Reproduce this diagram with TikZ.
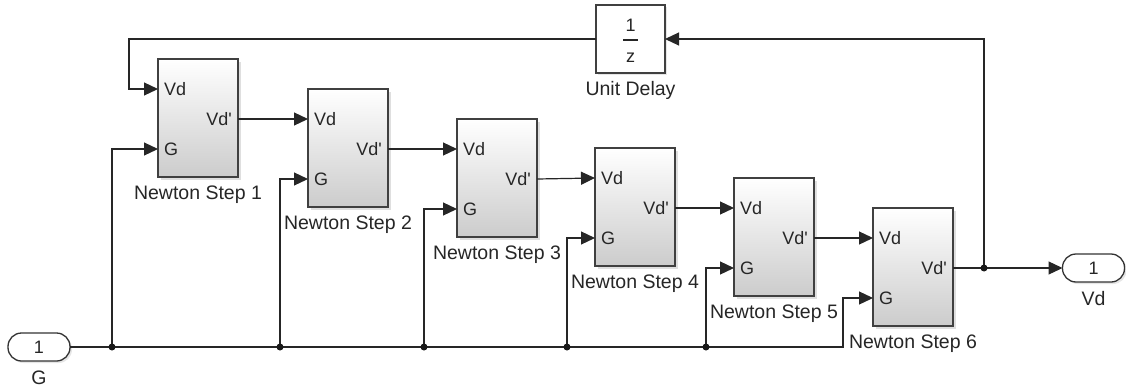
\documentclass[tikz,border=0pt]{standalone}
\usepackage{fontspec}
\setmainfont{Liberation Sans}
\usetikzlibrary{arrows.meta,shadows}
\begin{document}
\begin{tikzpicture}[x=1pt,y=-1pt,
  txt/.style={font=\fontsize{18}{21}\selectfont, text=black!85, inner sep=0pt},
  blabel/.style={font=\fontsize{19.5}{22}\selectfont, text=black!85, inner sep=0pt},
  wire/.style={line width=1.2pt, draw=black!85},
  sig/.style={wire, -{Triangle[length=14pt,width=13pt]}},
  blk/.style={draw=black!75, line width=1.5pt, minimum width=80pt, minimum height=118pt,
    inner sep=0pt, outer sep=0pt, top color=white, bottom color=black!20,
    drop shadow={shadow xshift=2.5pt,shadow yshift=-2.5pt,opacity=0.25}},
  dly/.style={draw=black!75, line width=1.5pt, minimum width=69pt, minimum height=68pt,
    inner sep=0pt, outer sep=0pt, fill=white,
    drop shadow={shadow xshift=2pt,shadow yshift=-2pt,opacity=0.2}},
  port/.style={draw=black!80, line width=1.3pt, minimum width=62pt, minimum height=28pt,
    rounded corners=13.5pt, inner sep=0pt, outer sep=0pt, fill=white, txt,
    drop shadow={shadow xshift=2pt,shadow yshift=-2pt,opacity=0.2}},
  dot/.style={fill=black!90}
]
\path[use as bounding box] (0,0) rectangle (1126,391);

% Newton step blocks
\foreach \i/\x/\t in {1/158/59, 2/308/89, 3/457/119, 4/595/148, 5/734/178, 6/873/208}{
  \node[blk] (b\i) at ({\x+40},{\t+59}) {};
  \coordinate (b\i-vd) at (\x,{\t+30});
  \coordinate (b\i-g) at (\x,{\t+90});
  \coordinate (b\i-o) at ({\x+80},{\t+60});
  \node[txt, anchor=west] (b\i-vdl) at ({\x+6},{\t+30}) {Vd};
  \node[txt, anchor=west] (b\i-gl) at ({\x+6},{\t+90}) {G};
  \node[txt, anchor=east] (b\i-ol) at ({\x+74},{\t+60}) {Vd\textquotesingle};
  \node[blabel] (b\i-name) at ({\x+40},{\t+136}) {Newton Step \i};
}

% Unit delay
\node[dly] (ud) at (630.5,39) {};
\node[txt] (ud-n) at (630.5,25) {1};
\draw[line width=1.2pt, black!85] (623,40) -- (638,40);
\node[txt] (ud-d) at (630.5,58) {z};
\node[blabel] (ud-name) at (630.5,90) {Unit Delay};

% Inport and outport
\node[port] (gin) at (39,347) {1};
\node[blabel] (gin-name) at (39,378) {G};
\node[port] (vdout) at (1093.5,268) {1};
\node[blabel] (vdout-name) at (1093.5,299) {Vd};

% chain of steps
\foreach \i/\j in {1/2,2/3,3/4,4/5,5/6}{
  \draw[sig] (b\i-o) -- (b\j-vd);
}

% G bus
\coordinate (j1) at (112,347);
\coordinate (j2) at (280,347);
\coordinate (j3) at (424,347);
\coordinate (j4) at (567,347);
\coordinate (j5) at (706,347);
\coordinate (busend) at (843,347);
\draw[sig] (gin.east) -- (busend) |- (b6-g);
\foreach \i in {1,...,5}{
  \draw[sig] (j\i) |- (b\i-g);
  \fill[dot] (j\i) circle (3.5pt);
}

% output and feedback
\coordinate (jo) at (984,268);
\coordinate (fbc) at (129,89);
\draw[sig] (b6-o) -- (vdout.west);
\draw[sig] (jo) |- (ud.east);
\draw[sig] (ud.west) -| (fbc) -- (b1-vd);
\fill[dot] (jo) circle (3.5pt);
\end{tikzpicture}
\end{document}
